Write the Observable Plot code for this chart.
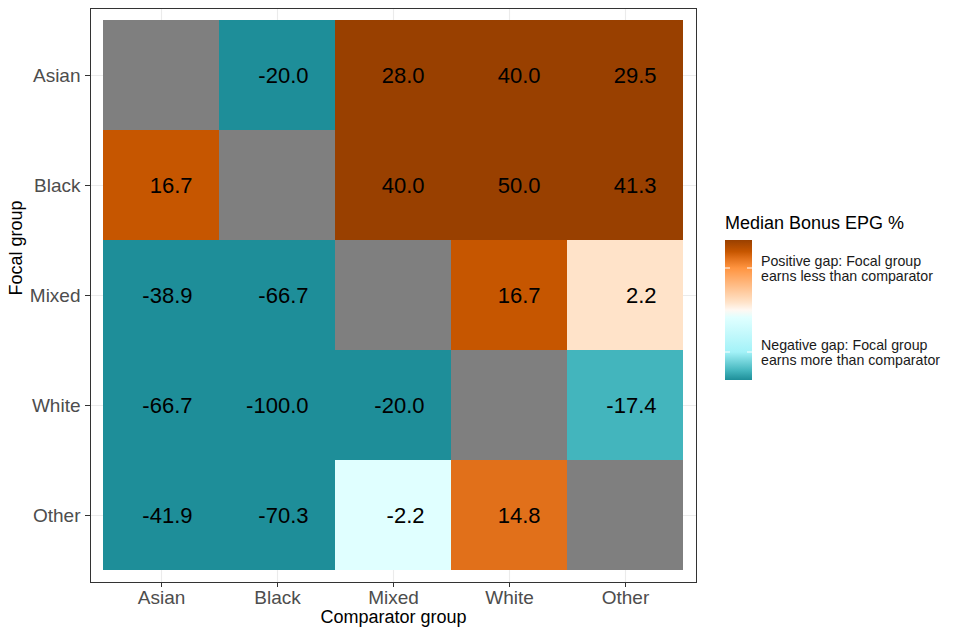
<!DOCTYPE html>
<html><head><meta charset="utf-8">
<script src="https://cdn.jsdelivr.net/npm/d3@7"></script>
<script src="https://cdn.jsdelivr.net/npm/@observablehq/plot@0.6"></script>
<style>
body{margin:0;background:#fff;font-family:"Liberation Sans",Arial,sans-serif;}
#wrap{position:relative;width:960px;height:640px;}
#legend{position:absolute;left:0;top:0;pointer-events:none;}
</style></head><body><div id="wrap"></div>
<script>
// Focal groups (rows) and comparator groups (columns)
const groups = ["Asian", "Black", "Mixed", "White", "Other"];
// Median bonus EPG % by focal group, one value per comparator group (null = same group)
const focalAsian = [null, -20.0, 28.0, 40.0, 29.5];
const focalBlack = [16.7, null, 40.0, 50.0, 41.3];
const focalMixed = [-38.9, -66.7, null, 16.7, 2.2];
const focalWhite = [-66.7, -100.0, -20.0, null, -17.4];
const focalOther = [-41.9, -70.3, -2.2, 14.8, null];
// Colour scale stops
const colorStops = [-20, -17.4, -12, -2.2, 0, 2.2, 12, 14.8, 16.7, 20];
const colorRange = ["#1E8E99", "#43B5BD", "#A3F2F8", "#E0FFFF", "#FFF8F2", "#FFE3C9", "#FF9440", "#E1701A", "#C65600", "#994000"];
const legendTitle = "Median Bonus EPG %";
const legendBreaks = [12, -12];
const legendLabels = [["Positive gap: Focal group", "earns less than comparator"], ["Negative gap: Focal group", "earns more than comparator"]];

const rows = [focalAsian, focalBlack, focalMixed, focalWhite, focalOther];
const cells = [];
groups.forEach((f, i) => rows[i].forEach((v, j) => cells.push({focal: f, comparator: groups[j], value: v})));
const valued = cells.filter(d => d.value != null);
const diag = cells.filter(d => d.value == null);
const font = '"Liberation Sans", Arial, sans-serif';

const chart = Plot.plot({
  width: 960, height: 640,
  marginLeft: 90, marginRight: 264, marginTop: 8, marginBottom: 58,
  style: {fontFamily: font, background: "#fff", overflow: "visible"},
  x: {domain: groups, range: [101.65, 684.35], padding: 0},
  y: {domain: groups, range: [19.04, 570.96], padding: 0},
  color: {type: "linear", domain: colorStops, range: colorRange, interpolate: "rgb", clamp: true},
  marks: [
    Plot.gridX(groups, {stroke: "#EBEBEB", strokeOpacity: 1, strokeWidth: 1.1}),
    Plot.gridY(groups, {stroke: "#EBEBEB", strokeOpacity: 1, strokeWidth: 1.1}),
    Plot.cell(diag, {x: "comparator", y: "focal", fill: "#7F7F7F", inset: 0}),
    Plot.cell(valued, {x: "comparator", y: "focal", fill: "value", inset: 0}),
    Plot.text(valued, {x: "comparator", y: "focal", text: d => d.value.toFixed(1), textAnchor: "end", dx: 31, fontSize: 22, fill: "#000"}),
    Plot.frame({stroke: "#333", strokeWidth: 1}),
    Plot.axisX({tickSize: 5, tickPadding: 3, fontSize: 19, stroke: "#333", fill: "#4D4D4D", label: null}),
    Plot.axisY({tickSize: 5, tickPadding: 5, fontSize: 19, stroke: "#333", fill: "#4D4D4D", label: null}),
    Plot.text(["Comparator group"], {frameAnchor: "bottom", dy: 40, text: d => d, fontSize: 18, fill: "#000"}),
    Plot.text(["Focal group"], {frameAnchor: "left", dx: -74, rotate: -90, text: d => d, fontSize: 18, fill: "#000"})
  ]
});
const wrap = document.getElementById("wrap");
wrap.appendChild(chart);

// Legend (colourbar)
const lg = d3.select(wrap).append("svg").attr("id", "legend").attr("width", 960).attr("height", 640)
  .style("font-family", font);
const barX = 725, barY = 240, barW = 27, barH = 140;
const lo = colorStops[0], hi = colorStops[colorStops.length - 1];
const grad = lg.append("defs").append("linearGradient").attr("id", "cbar")
  .attr("x1", 0).attr("y1", 0).attr("x2", 0).attr("y2", 1);
// stops must go in increasing offset order (top = high value)
colorStops.map((s, i) => ({off: (hi - s) / (hi - lo), c: colorRange[i]}))
  .sort((a, b) => a.off - b.off)
  .forEach(s => grad.append("stop").attr("offset", s.off).attr("stop-color", s.c));
lg.append("text").attr("x", 725).attr("y", 229).attr("font-size", 18).attr("fill", "#000").text(legendTitle);
lg.append("rect").attr("x", barX).attr("y", barY).attr("width", barW).attr("height", barH).attr("fill", "url(#cbar)");
const yOf = v => barY + (hi - v) / (hi - lo) * barH;
legendBreaks.forEach((b, i) => {
  const y = yOf(b);
  lg.append("line").attr("x1", barX).attr("x2", barX + 5).attr("y1", y).attr("y2", y).attr("stroke", "#fff").attr("stroke-width", 1);
  lg.append("line").attr("x1", barX + barW - 5).attr("x2", barX + barW).attr("y1", y).attr("y2", y).attr("stroke", "#fff").attr("stroke-width", 1);
  const t = lg.append("text").attr("font-size", 14.2).attr("fill", "#1a1a1a").attr("dominant-baseline", "central");
  legendLabels[i].forEach((line, k) => t.append("tspan").attr("x", 761).attr("y", y - 7.5 + 15 * k).text(line));
});
</script></body></html>
